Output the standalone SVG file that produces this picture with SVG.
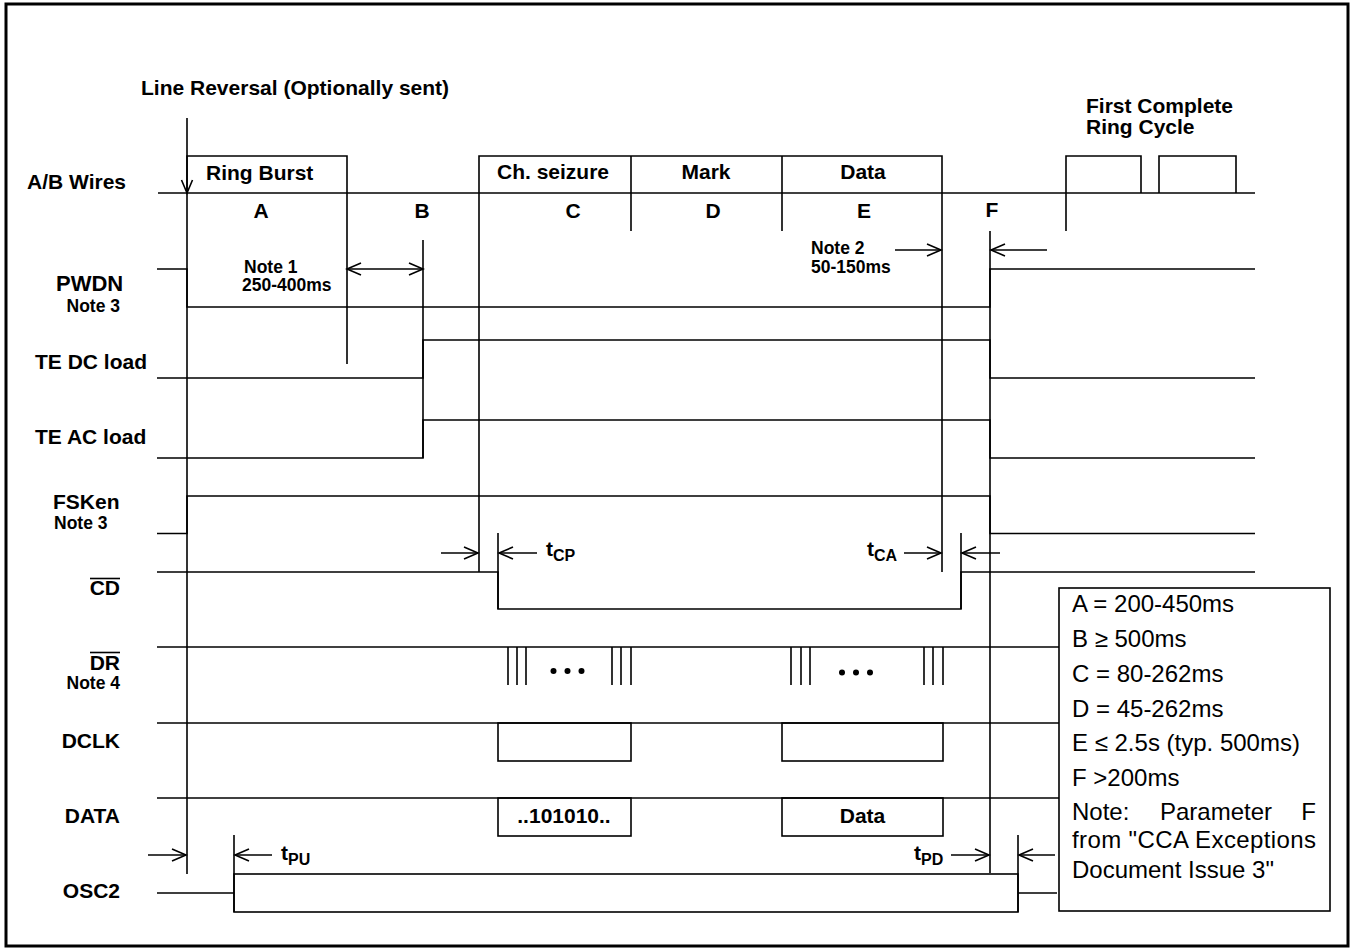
<svg xmlns="http://www.w3.org/2000/svg" width="1356" height="949" viewBox="0 0 1356 949">
<style>
.ln{fill:none;stroke:#000;stroke-width:1.6}
.b{font-family:"Liberation Sans",Arial,Helvetica,sans-serif;font-weight:bold;font-size:21px;fill:#000}
.s{font-family:"Liberation Sans",Arial,Helvetica,sans-serif;font-weight:bold;font-size:17.5px;fill:#000}
.sub{font-size:16px}
.r{font-family:"Liberation Sans",Arial,Helvetica,sans-serif;font-size:24px;fill:#000}
.e{text-anchor:end}
.m{text-anchor:middle}
</style>
<defs>
<marker id="ah" viewBox="-16 -8 18 16" refX="0" refY="0" markerWidth="18" markerHeight="16" markerUnits="userSpaceOnUse" orient="auto-start-reverse">
<path d="M-14,-6 L0,0 L-14,6" fill="none" stroke="#000" stroke-width="1.6"/>
</marker>
</defs>
<rect x="0" y="0" width="1356" height="949" fill="#fff"/>
<rect id="frame" x="6" y="4" width="1342" height="942" fill="none" stroke="#000" stroke-width="3"/>

<g id="labels">
<text class="b" x="141" y="95">Line Reversal (Optionally sent)</text>
<text class="b" x="27" y="189">A/B Wires</text>
<text class="b" x="56" y="291" style="font-size:22px">PWDN</text>
<text class="s e" x="120" y="312">Note 3</text>
<text class="b" x="35" y="369">TE DC load</text>
<text class="b" x="35" y="444">TE AC load</text>
<text class="b" x="53" y="509">FSKen</text>
<text class="s" x="54" y="529">Note 3</text>
<text class="b e" x="120" y="595">CD</text>
<line class="ln" x1="90" y1="578.5" x2="120" y2="578.5"/>
<text class="b e" x="120" y="670">DR</text>
<line class="ln" x1="90" y1="652.5" x2="120" y2="652.5"/>
<text class="s e" x="120" y="689">Note 4</text>
<text class="b e" x="120" y="748">DCLK</text>
<text class="b e" x="120" y="823">DATA</text>
<text class="b e" x="120" y="898">OSC2</text>
</g>

<g id="ab-wires">
<path class="ln" d="M158,193 H1255"/>
<path class="ln" d="M187,193 V156 H347 V364"/>
<path class="ln" d="M479,193 V156 H942 V193"/>
<path class="ln" d="M631,156 V231 M782,156 V231"/>
<path class="ln" d="M1066,231 V156 H1141 V193 M1159,193 V156 H1236 V193"/>
<text class="b" x="206" y="180">Ring Burst</text>
<text class="b" x="497" y="179">Ch. seizure</text>
<text class="b m" x="706" y="179">Mark</text>
<text class="b m" x="863" y="179">Data</text>
<text class="b" x="1086" y="113">First Complete</text>
<text class="b" x="1086" y="134">Ring Cycle</text>
<text class="b m" x="261" y="218">A</text>
<text class="b m" x="422" y="218">B</text>
<text class="b m" x="573" y="218">C</text>
<text class="b m" x="713" y="218">D</text>
<text class="b m" x="864" y="218">E</text>
<text class="b m" x="992" y="217">F</text>
<text class="s" x="244" y="273">Note 1</text>
<text class="s" x="242" y="291">250-400ms</text>
<text class="s" x="811" y="254">Note 2</text>
<text class="s" x="811" y="273">50-150ms</text>
</g>

<g id="timing-lines">
<path class="ln" d="M187,118 V874"/>
<path class="ln" d="M181.5,180 L187,193 L192.5,180"/>
<path class="ln" d="M423,240 V458"/>
<path class="ln" d="M479,193 V572"/>
<path class="ln" d="M942,193 V572"/>
<path class="ln" d="M990,231 V873"/>
<path class="ln" d="M498,533 V609"/>
<path class="ln" d="M961,533 V609"/>
<path class="ln" d="M234,835 V912"/>
<path class="ln" d="M1018,835 V912"/>
</g>

<g id="signals">
<path id="pwdn" class="ln" d="M157,269 H187 V307 H990 V269 H1255"/>
<path id="tedc" class="ln" d="M157,378 H423 V340 H990 V378 H1255"/>
<path id="teac" class="ln" d="M157,458 H423 V420 H990 V458 H1255"/>
<path id="fsken" class="ln" d="M157,533.5 H187 V496 H990 V533.5 H1255"/>
<path id="cd" class="ln" d="M157,572 H498 V609 H961 V572 H1255"/>
<g id="dr">
<path class="ln" d="M157,647 H1059"/>
<path class="ln" d="M508,647 V685 M517,647 V685 M526,647 V685 M612,647 V685 M621,647 V685 M631,647 V685 M791,647 V685 M801,647 V685 M810,647 V685 M924,647 V685 M933,647 V685 M943,647 V685"/>
<circle cx="553.5" cy="671" r="3"/><circle cx="567.5" cy="671" r="3"/><circle cx="581.5" cy="671" r="3"/>
<circle cx="842" cy="672.5" r="3"/><circle cx="856" cy="672.5" r="3"/><circle cx="870" cy="672.5" r="3"/>
</g>
<g id="dclk">
<path class="ln" d="M157,723 H1059"/>
<rect class="ln" x="498" y="723" width="133" height="38"/>
<rect class="ln" x="782" y="723" width="161" height="38"/>
</g>
<g id="data">
<path class="ln" d="M157,798 H1059"/>
<rect class="ln" x="498" y="798" width="133" height="38"/>
<rect class="ln" x="782" y="798" width="161" height="38"/>
<text class="b m" x="564" y="823">..101010..</text>
<text class="b m" x="862.5" y="823">Data</text>
</g>
<g id="osc2">
<path class="ln" d="M157,893 H234 M1018,893 H1057"/>
<rect class="ln" x="234" y="874" width="784" height="38"/>
</g>
</g>

<g id="connectors">
<line class="ln" x1="347" y1="269" x2="423" y2="269" marker-start="url(#ah)" marker-end="url(#ah)"/>
<line class="ln" x1="895" y1="250" x2="941" y2="250" marker-end="url(#ah)"/>
<line class="ln" x1="1047" y1="250" x2="991" y2="250" marker-end="url(#ah)"/>
<line class="ln" x1="441" y1="553" x2="478" y2="553" marker-end="url(#ah)"/>
<line class="ln" x1="537" y1="553" x2="499" y2="553" marker-end="url(#ah)"/>
<line class="ln" x1="904" y1="553" x2="941" y2="553" marker-end="url(#ah)"/>
<line class="ln" x1="1000" y1="553" x2="962" y2="553" marker-end="url(#ah)"/>
<line class="ln" x1="148" y1="855" x2="186" y2="855" marker-end="url(#ah)"/>
<line class="ln" x1="272" y1="855" x2="235" y2="855" marker-end="url(#ah)"/>
<line class="ln" x1="951" y1="855" x2="989" y2="855" marker-end="url(#ah)"/>
<line class="ln" x1="1055" y1="855" x2="1019" y2="855" marker-end="url(#ah)"/>
<text class="b" x="546" y="556">t<tspan class="sub" dy="5">CP</tspan></text>
<text class="b" x="867" y="556">t<tspan class="sub" dy="5">CA</tspan></text>
<text class="b" x="281" y="860">t<tspan class="sub" dy="5">PU</tspan></text>
<text class="b" x="914" y="860">t<tspan class="sub" dy="5">PD</tspan></text>
</g>

<g id="legend">
<rect class="ln" x="1059" y="588" width="271" height="323" fill="#fff"/>
<text class="r" x="1072" y="612">A = 200-450ms</text>
<text class="r" x="1072" y="647">B ≥ 500ms</text>
<text class="r" x="1072" y="682">C = 80-262ms</text>
<text class="r" x="1072" y="717">D = 45-262ms</text>
<text class="r" x="1072" y="751">E ≤ 2.5s (typ. 500ms)</text>
<text class="r" x="1072" y="786">F &gt;200ms</text>
<text class="r" x="1072" y="820">Note:</text>
<text class="r" x="1160" y="820">Parameter</text>
<text class="r e" x="1316" y="820">F</text>
<text class="r" x="1072" y="848" textLength="244" lengthAdjust="spacing">from "CCA Exceptions</text>
<text class="r" x="1072" y="878">Document Issue 3"</text>
</g>
</svg>
